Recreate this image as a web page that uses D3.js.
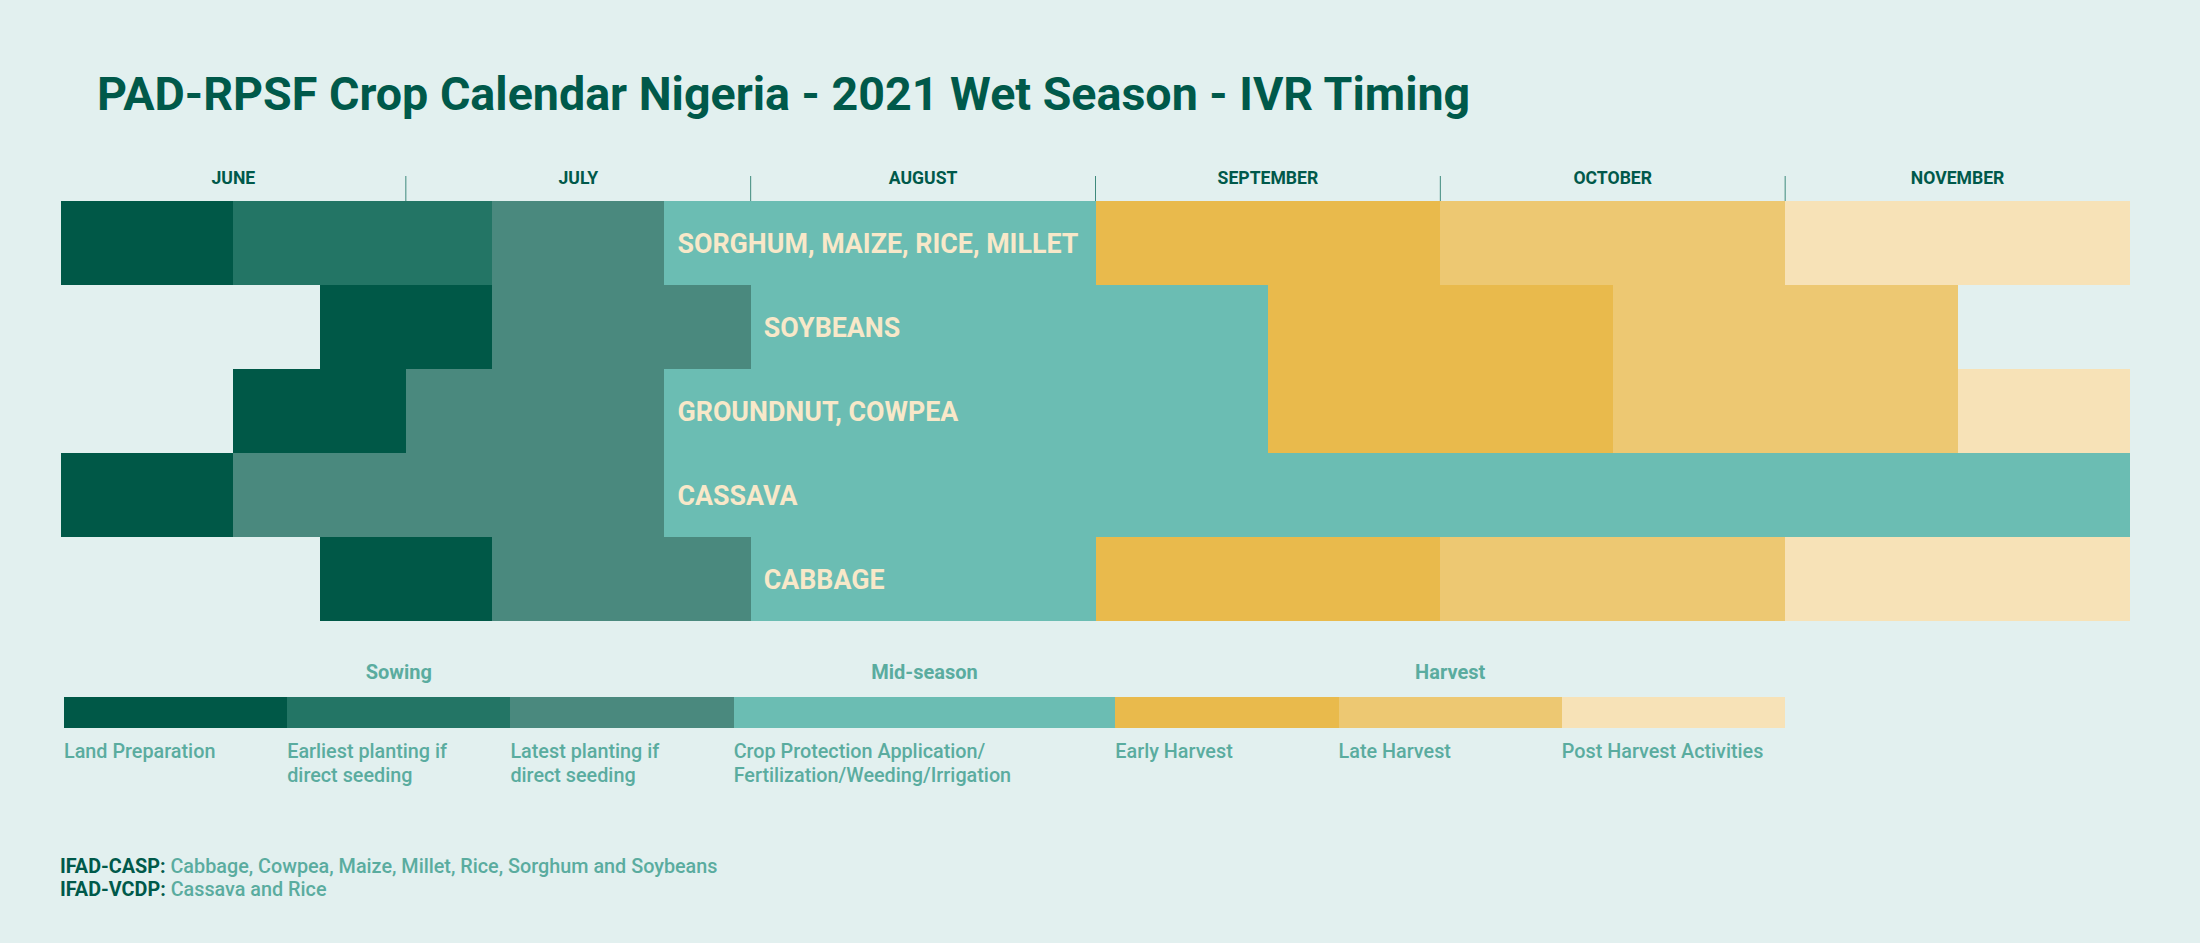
<!DOCTYPE html>
<html>
<head>
<meta charset="utf-8">
<script src="https://cdn.jsdelivr.net/npm/d3@7"></script>
<style>
  html, body { margin: 0; padding: 0; background: #e2f0ef; }
  svg { display: block; font-family: Roboto, "Noto Sans", sans-serif; }
</style>
</head>
<body>
<div id="chart"></div>
<script>
// months on the top axis, each split into 4 quarters (weeks)
const months = ['JUNE', 'JULY', 'AUGUST', 'SEPTEMBER', 'OCTOBER', 'NOVEMBER'];

const crops = ['SORGHUM, MAIZE, RICE, MILLET', 'SOYBEANS', 'GROUNDNUT, COWPEA', 'CASSAVA', 'CABBAGE'];

const stages = ['Land Preparation', 'Earliest planting if direct seeding', 'Latest planting if direct seeding',
  'Crop Protection Application/Fertilization/Weeding/Irrigation', 'Early Harvest', 'Late Harvest', 'Post Harvest Activities'];

// legend label lines, as wrapped in the picture
const stageLines = [
  ['Land Preparation'],
  ['Earliest planting if', 'direct seeding'],
  ['Latest planting if', 'direct seeding'],
  ['Crop Protection Application/', 'Fertilization/Weeding/Irrigation'],
  ['Early Harvest'],
  ['Late Harvest'],
  ['Post Harvest Activities']
];

const stageGroups = [
  { name: 'Sowing', from: 0, to: 2 },
  { name: 'Mid-season', from: 3, to: 3 },
  { name: 'Harvest', from: 4, to: 6 }
];

// [stage index, start quarter, end quarter] counted from 1 June
const sorghum   = [[0, 0, 2], [1, 2, 5], [2, 5, 7], [3, 7, 12], [4, 12, 16], [5, 16, 20], [6, 20, 24]];
const soybeans  = [[0, 3, 5], [2, 5, 8], [3, 8, 14], [4, 14, 18], [5, 18, 22]];
const groundnut = [[0, 2, 4], [2, 4, 7], [3, 7, 14], [4, 14, 18], [5, 18, 22], [6, 22, 24]];
const cassava   = [[0, 0, 2], [2, 2, 7], [3, 7, 24]];
const cabbage   = [[0, 3, 5], [2, 5, 8], [3, 8, 12], [4, 12, 16], [5, 16, 20], [6, 20, 24]];
const schedule = [sorghum, soybeans, groundnut, cassava, cabbage];

const footnotes = [
  ['IFAD-CASP:', 'Cabbage, Cowpea, Maize, Millet, Rice, Sorghum and Soybeans'],
  ['IFAD-VCDP:', 'Cassava and Rice']
];

// ---- layout / styles
const W = 2200, H = 943;
const dark = '#00594a';
const legendTeal = '#5aac9f';
const stageColors = ['#005847', '#237565', '#4a897e', '#6bbdb3', '#e9ba4c', '#edc872', '#f7e2b7'];

const svg = d3.select('#chart').append('svg')
  .attr('width', W)
  .attr('height', H);

svg.append('rect').attr('width', W).attr('height', H).attr('fill', '#e2f0ef');

svg.append('text')
  .attr('x', 97)
  .attr('y', 110)
  .attr('fill', dark)
  .attr('font-size', 46.6)
  .attr('font-weight', 700)
  .text('PAD-RPSF Crop Calendar Nigeria - 2021 Wet Season - IVR Timing');

const x = d3.scaleLinear().domain([0, months.length * 4]).range([61, 2130]);
const y = d3.scaleBand().domain(crops).range([201, 621]);

// month header
const head = svg.append('g');
head.selectAll('text')
  .data(months)
  .enter().append('text')
    .attr('x', (d, i) => x(i * 4 + 2))
    .attr('y', 184)
    .attr('text-anchor', 'middle')
    .attr('fill', dark)
    .attr('font-size', 17.6)
    .attr('font-weight', 700)
    .text(d => d);

head.selectAll('line')
  .data(d3.range(1, months.length))
  .enter().append('line')
    .attr('x1', d => x(d * 4)).attr('x2', d => x(d * 4))
    .attr('y1', 176).attr('y2', 201)
    .attr('stroke', '#3e8a7c')
    .attr('stroke-width', 1);

// crop rows
const rows = svg.append('g');
schedule.forEach((phases, r) => {
  const g = rows.append('g');
  g.selectAll('rect')
    .data(phases)
    .enter().append('rect')
      .attr('x', d => x(d[1]))
      .attr('y', y(crops[r]))
      .attr('width', d => x(d[2]) - x(d[1]))
      .attr('height', y.bandwidth())
      .attr('fill', d => stageColors[d[0]])
      .attr('shape-rendering', 'crispEdges');

  const mid = phases.find(d => d[0] === 3);
  g.append('text')
    .attr('x', x(mid[1]) + 13)
    .attr('y', y(crops[r]) + y.bandwidth() / 2)
    .attr('dy', '0.36em')
    .attr('fill', '#f8e8c9')
    .attr('font-size', 26.8)
    .attr('font-weight', 700)
    .text(crops[r]);
});

// legend
const legendUnits = [1, 1, 1, 1.71, 1, 1, 1];
const cum = [0];
legendUnits.forEach(u => cum.push(cum[cum.length - 1] + u));
const lx = d3.scaleLinear().domain([0, cum[cum.length - 1]]).range([64, 1785]);
const legend = svg.append('g');

legend.selectAll('rect')
  .data(stages)
  .enter().append('rect')
    .attr('x', (d, i) => lx(cum[i]))
    .attr('y', 697)
    .attr('width', (d, i) => lx(cum[i + 1]) - lx(cum[i]))
    .attr('height', 31)
    .attr('fill', (d, i) => stageColors[i])
    .attr('shape-rendering', 'crispEdges');

legend.selectAll('text.group')
  .data(stageGroups)
  .enter().append('text')
    .attr('class', 'group')
    .attr('x', d => (lx(cum[d.from]) + lx(cum[d.to + 1])) / 2)
    .attr('y', 679)
    .attr('text-anchor', 'middle')
    .attr('fill', legendTeal)
    .attr('font-size', 20)
    .attr('font-weight', 700)
    .text(d => d.name);

const labels = legend.selectAll('text.label')
  .data(stageLines)
  .enter().append('text')
    .attr('class', 'label')
    .attr('x', (d, i) => lx(cum[i]))
    .attr('y', 758)
    .attr('fill', legendTeal)
    .attr('font-size', 19.8)
    .attr('font-weight', 500);
labels.selectAll('tspan')
  .data(d => d)
  .enter().append('tspan')
    .attr('x', function () { return d3.select(this.parentNode).attr('x'); })
    .attr('dy', (d, i) => i === 0 ? 0 : 23.5)
    .text(d => d);

// footnotes
const foot = svg.append('g');
footnotes.forEach((f, i) => {
  const t = foot.append('text')
    .attr('x', 60)
    .attr('y', 873 + i * 23)
    .attr('font-size', 19.8);
  t.append('tspan').attr('fill', dark).attr('font-weight', 700).text(f[0] + ' ');
  t.append('tspan').attr('fill', legendTeal).attr('font-weight', 500).text(f[1]);
});
</script>
</body>
</html>
